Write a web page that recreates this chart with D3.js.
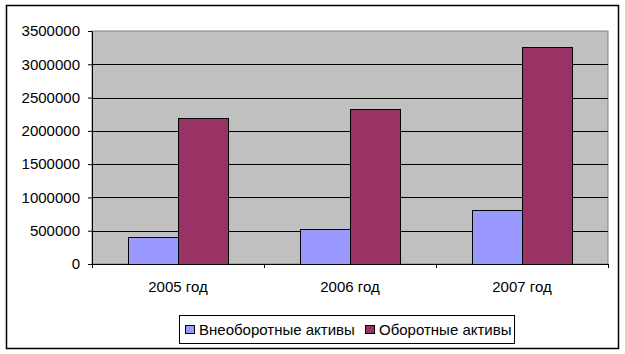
<!DOCTYPE html>
<html lang="ru">
  <head>
    <meta charset="UTF-8" />
    <title>Активы</title>
    <style>
      body { margin: 0; background: #fff; }
      svg { display: block; font-family: "Liberation Sans", Arial, sans-serif; }
    </style>
  </head>
  <body>
    <svg id="svg" width="625" height="354"></svg>

    <script src="https://cdn.jsdelivr.net/npm/d3@7"></script>
    <script>
      const years = ["2005 год", "2006 год", "2007 год"];
      const seriesNames = ["Внеоборотные активы", "Оборотные активы"];
      const fixedAssets = [405000, 525000, 810000];
      const currentAssets = [2190000, 2330000, 3260000];
      const yTicks = [0, 500000, 1000000, 1500000, 2000000, 2500000, 3000000, 3500000];
      const colors = ["#9999FF", "#993366"];

      const PLOT = { left: 92, right: 608, top: 31, bottom: 264 };
      const FONT = "Liberation Sans, Arial, sans-serif";

      const svg = d3.select("#svg");

      // outer frame
      svg.append("rect")
        .attr("x", 6.5).attr("y", 5.5)
        .attr("width", 612).attr("height", 343)
        .attr("fill", "#fff").attr("stroke", "#000").attr("stroke-width", 1.5);

      const xScale = d3.scaleBand().domain(years).range([PLOT.left, PLOT.right]);
      const yScale = d3.scaleLinear().domain([0, 3500000]).range([PLOT.bottom, PLOT.top]);
      const inner = d3.scaleBand().domain([0, 1]).range([0, 100]);

      // plot background
      svg.append("rect")
        .attr("x", PLOT.left).attr("y", PLOT.top)
        .attr("width", PLOT.right - PLOT.left).attr("height", PLOT.bottom - PLOT.top)
        .attr("fill", "#C0C0C0").attr("stroke", "#808080");

      // gridlines
      svg.append("g")
        .selectAll("line")
        .data(yTicks.slice(1, -1))
        .enter()
        .append("line")
        .attr("x1", PLOT.left).attr("x2", PLOT.right)
        .attr("y1", (d) => Math.round(yScale(d)) + 0.5)
        .attr("y2", (d) => Math.round(yScale(d)) + 0.5)
        .attr("stroke", "#000");

      // bars
      const data = years.map((y, i) => ({ year: y, values: [fixedAssets[i], currentAssets[i]] }));
      const groups = svg.append("g")
        .selectAll("g")
        .data(data)
        .enter()
        .append("g")
        .attr("transform", (d) => `translate(${xScale(d.year) + (xScale.bandwidth() - 100) / 2}, 0)`);
      groups.selectAll("rect")
        .data((d) => d.values)
        .enter()
        .append("rect")
        .attr("x", (d, i) => inner(i) + 0.5)
        .attr("y", (d) => Math.round(yScale(d)) + 0.5)
        .attr("width", inner.bandwidth())
        .attr("height", (d) => PLOT.bottom - Math.round(yScale(d)))
        .attr("fill", (d, i) => colors[i])
        .attr("stroke", "#000");

      // y axis
      const leftAxis = d3.axisLeft(yScale).tickValues(yTicks).tickSize(4).tickSizeOuter(0).tickFormat(d3.format("d"));
      const ya = svg.append("g").attr("transform", `translate(${PLOT.left}, 0)`).call(leftAxis)
        .attr("font-size", 15).attr("font-family", FONT);
      ya.select(".domain").attr("stroke", "#000");
      ya.selectAll("text").attr("fill", "#000").attr("x", -12);

      // x axis
      const bottomAxis = d3.axisBottom(xScale).tickSize(0).tickSizeOuter(0);
      const xa = svg.append("g").attr("transform", `translate(0, ${PLOT.bottom})`).call(bottomAxis)
        .attr("font-size", 15).attr("font-family", FONT);
      xa.select(".domain").attr("stroke", "#000");
      xa.selectAll("text").attr("fill", "#000").attr("y", 17);
      // category boundary ticks
      xa.append("g")
        .selectAll("line")
        .data(years.concat(["end"]))
        .enter()
        .append("line")
        .attr("x1", (d, i) => Math.round(PLOT.left + i * xScale.step()) + 0.5)
        .attr("x2", (d, i) => Math.round(PLOT.left + i * xScale.step()) + 0.5)
        .attr("y1", 0).attr("y2", 4)
        .attr("stroke", "#000");

      // legend
      const legend = svg.append("g").attr("font-size", 15).attr("font-family", FONT);
      legend.append("rect")
        .attr("x", 179.5).attr("y", 315.5).attr("width", 335).attr("height", 28)
        .attr("fill", "#fff").attr("stroke", "#000");
      const legendX = [185, 365];
      seriesNames.forEach((name, i) => {
        legend.append("rect")
          .attr("x", legendX[i] + 0.5).attr("y", 325.5).attr("width", 9).attr("height", 8)
          .attr("fill", colors[i]).attr("stroke", "#000");
        legend.append("text")
          .attr("x", legendX[i] + 14).attr("y", 335)
          .attr("fill", "#000")
          .text(name);
      });
    </script>
  </body>
</html>
